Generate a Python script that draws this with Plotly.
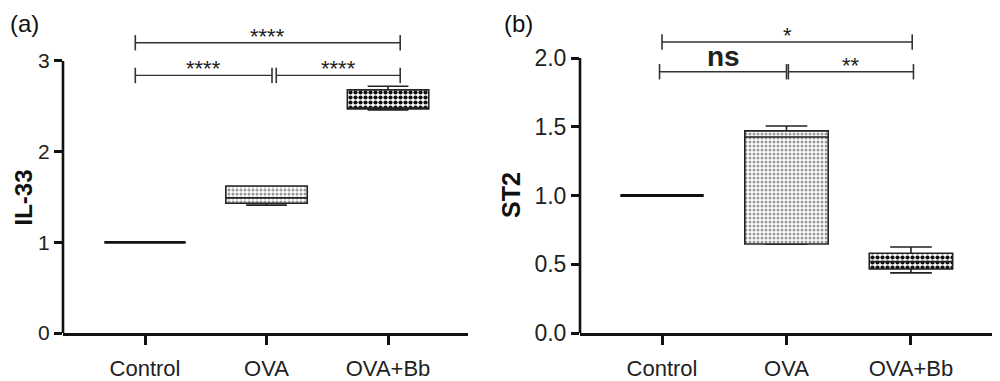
import plotly.graph_objects as go

# ---------------- data ----------------
categories = ["Control", "OVA", "OVA+Bb"]
positions = [0, 1, 2]

# Panel (a) IL-33 box statistics
il33_min = [1.0, 1.41, 2.46]
il33_q1 = [1.0, 1.43, 2.47]
il33_median = [1.0, 1.49, 2.48]
il33_q3 = [1.0, 1.62, 2.68]
il33_max = [1.0, 1.62, 2.72]

# Panel (b) ST2 box statistics
st2_min = [1.0, 0.645, 0.437]
st2_q1 = [1.0, 0.647, 0.465]
st2_median = [1.0, 1.425, 0.52]
st2_q3 = [1.0, 1.47, 0.58]
st2_max = [1.0, 1.505, 0.625]

il33_ticks = [0, 1, 2, 3]
st2_ticks = [0.0, 0.5, 1.0, 1.5, 2.0]
st2_ticktext = ["0.0", "0.5", "1.0", "1.5", "2.0"]

# significance comparisons: (x start, x end, height, label)
il33_sig = [(-0.08, 2.10, 3.20, "****"), (-0.08, 1.045, 2.84, "****"), (1.08, 2.10, 2.84, "****")]
st2_sig = [(0.0, 2.01, 2.116, "*"), (-0.02, 1.0, 1.90, "ns"), (1.015, 2.02, 1.90, "**")]

# ---------------- style ----------------
FONT = "Liberation Sans, Arial, sans-serif"
OFF = 8                      # page body margin of the browser
W, H = 1000 - OFF, 381 - OFF
BOXW = 0.67
fill_fg = ["#ffffff", "#9a9a9a", "#111111"]
fill_sz = [4, 4, 5]
fill_sol = [0.5, 0.45, 0.55]


def px(x):
    return (x - OFF) / W


def py(y):
    return 1 - (y - OFF) / H


fig = go.Figure()


def add_panel(xa, ya, q_min, q1, med, q3, q_max, sig):
    # patterned fill (bars from q1 to q3)
    for i in range(1, 3):
        fig.add_trace(go.Bar(
            x=[positions[i]], base=[q1[i]], y=[q3[i] - q1[i]], width=BOXW,
            xaxis=xa, yaxis=ya, showlegend=False, hoverinfo="skip",
            marker=dict(color="white", line=dict(width=0),
                        pattern=dict(shape=".", fgcolor=fill_fg[i], bgcolor="white",
                                     size=fill_sz[i], solidity=fill_sol[i], fillmode="replace")),
        ))
    # control as a flat box
    fig.add_trace(go.Box(
        x=[positions[0]], q1=[q1[0]], median=[med[0]], q3=[q3[0]],
        lowerfence=[q_min[0]], upperfence=[q_max[0]], width=BOXW,
        xaxis=xa, yaxis=ya, showlegend=False, fillcolor="rgba(0,0,0,0)",
        line=dict(color="#111111", width=2.8), boxpoints=False, hoverinfo="skip",
    ))
    fig.add_trace(go.Box(
        x=positions[1:], q1=q1[1:], median=med[1:], q3=q3[1:],
        lowerfence=q_min[1:], upperfence=q_max[1:], width=BOXW, whiskerwidth=0.5,
        xaxis=xa, yaxis=ya, showlegend=False, fillcolor="rgba(0,0,0,0)",
        line=dict(color="#222222", width=1.6), boxpoints=False, hoverinfo="skip",
    ))
    # significance brackets
    for (x0, x1, h, lab) in sig:
        fig.add_trace(go.Scatter(
            x=[x0, x1], y=[h, h], mode="lines+markers", xaxis=xa, yaxis=ya,
            showlegend=False, hoverinfo="skip",
            line=dict(color="#333333", width=1.4),
            marker=dict(symbol="line-ns-open", size=11, line=dict(color="#333333", width=1.6)),
        ))
        if lab == "ns":
            fig.add_annotation(x=(x0 + x1) / 2, y=h, xref=xa, yref=ya, text="<b>ns</b>",
                               showarrow=False, yanchor="bottom", yshift=-2,
                               font=dict(family=FONT, size=28, color="#222222"))
        else:
            fig.add_annotation(x=(x0 + x1) / 2, y=h, xref=xa, yref=ya, text=lab,
                               showarrow=False, yanchor="bottom", yshift=-8,
                               font=dict(family=FONT, size=22, color="#222222"))


add_panel("x", "y", il33_min, il33_q1, il33_median, il33_q3, il33_max, il33_sig)
add_panel("x2", "y2", st2_min, st2_q1, st2_median, st2_q3, st2_max, st2_sig)

y0_px = 333
top_px = 20
ydom = [py(y0_px), py(top_px)]
yrange_a = [0, (y0_px - top_px) / 90.7]
yrange_b = [0, (y0_px - top_px) / 137.5]
xdom_a = [px(63), px(468)]
xdom_b = [px(580), px(993)]

xcommon = dict(tickvals=positions, ticktext=categories, showline=True, linecolor="#111111",
               linewidth=2.6, ticks="outside", ticklen=9, tickwidth=2.6, tickcolor="#111111",
               showgrid=False, zeroline=False, automargin=False, ticklabelstandoff=5,
               tickfont=dict(family=FONT, size=22, color="#222222"), fixedrange=True)
ycommon = dict(showline=False, ticks="outside", ticklen=8, tickwidth=2.6, tickcolor="#111111",
               showgrid=False, zeroline=False, automargin=False, fixedrange=True)

fig.update_layout(
    width=W, height=H, margin=dict(l=0, r=0, t=0, b=0, autoexpand=False),
    paper_bgcolor="white", plot_bgcolor="white", barmode="overlay",
    xaxis=dict(domain=xdom_a, range=[-0.675, 2.658], anchor="y", **xcommon),
    yaxis=dict(domain=ydom, range=yrange_a, anchor="x",
               tickvals=il33_ticks, ticktext=[str(t) for t in il33_ticks],
               tickfont=dict(family=FONT, size=21, color="#222222"), **ycommon),
    xaxis2=dict(domain=xdom_b, range=[-0.659, 2.659], anchor="y2", **xcommon),
    yaxis2=dict(domain=ydom, range=yrange_b, anchor="x2",
                tickvals=st2_ticks, ticktext=st2_ticktext,
                tickfont=dict(family=FONT, size=23, color="#222222"), **ycommon),
)


def ypaper(v, rng):
    return ydom[0] + (v - rng[0]) / (rng[1] - rng[0]) * (ydom[1] - ydom[0])


# y axis lines only up to the top tick (paper refs so they are not clipped)
fig.add_shape(type="line", xref="paper", yref="paper", x0=xdom_a[0], x1=xdom_a[0],
              y0=ypaper(0, yrange_a), y1=ypaper(il33_ticks[-1], yrange_a),
              line=dict(color="#111111", width=2.6))
fig.add_shape(type="line", xref="paper", yref="paper", x0=xdom_b[0], x1=xdom_b[0],
              y0=ypaper(0, yrange_b), y1=ypaper(st2_ticks[-1], yrange_b),
              line=dict(color="#111111", width=2.6))

# axis titles and panel letters
fig.add_annotation(x=0, y=py(198), xref="paper", yref="paper", text="<b>IL-33</b>",
                   xanchor="left", yanchor="middle", borderpad=0,
                   textangle=-90, showarrow=False, font=dict(family=FONT, size=24, color="#111111"))
fig.add_annotation(x=px(511), y=py(195), xref="paper", yref="paper", text="<b>ST2</b>",
                   xanchor="center", yanchor="middle",
                   textangle=-90, showarrow=False, font=dict(family=FONT, size=25, color="#111111"))
fig.add_annotation(x=0, y=1, xref="paper", yref="paper", text="(a)",
                   xanchor="left", yanchor="top", showarrow=False,
                   font=dict(family=FONT, size=24, color="#111111"))
fig.add_annotation(x=px(502), y=1, xref="paper", yref="paper", text="(b)",
                   xanchor="left", yanchor="top", showarrow=False,
                   font=dict(family=FONT, size=24, color="#111111"))

fig.write_html("out.html")
